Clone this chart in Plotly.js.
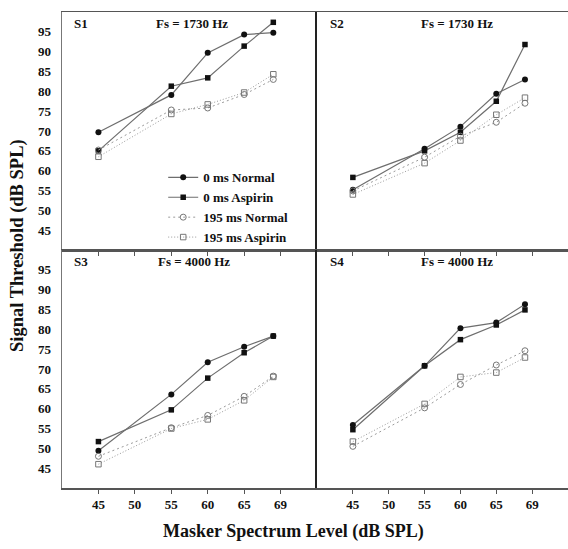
<!DOCTYPE html>
<html>
<head>
<meta charset="utf-8">
<script src="https://cdn.plot.ly/plotly-3.0.1.min.js"></script>
<style>html,body{margin:0;padding:0;background:#fff;}#chart{width:568px;height:549px;}</style>
</head>
<body>
<div id="chart"></div>
<script>
// Masker spectrum levels (dB SPL)
const maskerLevels = [45, 55, 60, 65, 69];
const xTickVals = [45, 50, 55, 60, 65, 70];
const xTickText = ['45', '50', '55', '60', '65', '69'];
const yTickVals = [45, 50, 55, 60, 65, 70, 75, 80, 85, 90, 95];

const seriesNames = ['0 ms Normal', '0 ms Aspirin', '195 ms Normal', '195 ms Aspirin'];

// Subject S1, Fs = 1730 Hz
const s1_0Normal    = [69.7, 79.1, 89.7, 94.3, 94.8];
const s1_0Aspirin   = [65.0, 81.3, 83.4, 91.4, 97.4];
const s1_195Normal  = [65.2, 75.3, 75.8, 79.2, 83.0];
const s1_195Aspirin = [63.5, 74.3, 76.7, 79.7, 84.3];

// Subject S2, Fs = 1730 Hz
const s2_0Normal    = [55.2, 65.5, 71.1, 79.4, 83.0];
const s2_0Aspirin   = [58.3, 65.0, 69.7, 77.5, 91.8];
const s2_195Normal  = [54.9, 63.4, 68.7, 72.2, 77.0];
const s2_195Aspirin = [54.0, 61.9, 67.6, 74.1, 78.4];

// Subject S3, Fs = 4000 Hz
const s3_0Normal    = [49.4, 63.6, 71.7, 75.6, 78.3];
const s3_0Aspirin   = [51.7, 59.7, 67.7, 74.1, 78.3];
const s3_195Normal  = [48.0, 55.2, 58.3, 63.1, 68.2];
const s3_195Aspirin = [46.0, 55.0, 57.3, 62.1, 68.0];

// Subject S4, Fs = 4000 Hz
const s4_0Normal    = [55.9, 70.8, 80.3, 81.7, 86.3];
const s4_0Aspirin   = [54.7, 70.8, 77.4, 81.1, 84.9];
const s4_195Normal  = [50.5, 60.2, 66.1, 71.0, 74.6];
const s4_195Aspirin = [51.7, 61.2, 68.0, 69.1, 72.9];

const panelLabels = ['S1', 'S2', 'S3', 'S4'];
const panelFs = ['Fs = 1730 Hz', 'Fs = 1730 Hz', 'Fs = 4000 Hz', 'Fs = 4000 Hz'];

const panels = [
  {xa: 'x',  ya: 'y',  data: [s1_0Normal, s1_0Aspirin, s1_195Normal, s1_195Aspirin]},
  {xa: 'x2', ya: 'y2', data: [s2_0Normal, s2_0Aspirin, s2_195Normal, s2_195Aspirin]},
  {xa: 'x3', ya: 'y3', data: [s3_0Normal, s3_0Aspirin, s3_195Normal, s3_195Aspirin]},
  {xa: 'x4', ya: 'y4', data: [s4_0Normal, s4_0Aspirin, s4_195Normal, s4_195Aspirin]}
];

const styles = [
  {line: {color: '#6e6e6e', width: 1.2, dash: 'solid'}, marker: {symbol: 'circle', size: 6, color: '#111'}},
  {line: {color: '#6e6e6e', width: 1.2, dash: 'solid'}, marker: {symbol: 'square', size: 5.5, color: '#111'}},
  {line: {color: '#9a9a9a', width: 1, dash: '2px,3px'}, marker: {symbol: 'circle-open', size: 6, color: '#777', line: {width: 1}}},
  {line: {color: '#9a9a9a', width: 1, dash: '1px,2px'}, marker: {symbol: 'square-open', size: 5.5, color: '#777', line: {width: 1}}}
];

const traces = [];
panels.forEach((p, pi) => {
  p.data.forEach((vals, si) => {
    traces.push({
      type: 'scatter', mode: 'lines+markers',
      x: maskerLevels, y: vals,
      xaxis: p.xa, yaxis: p.ya,
      name: seriesNames[si],
      showlegend: pi === 0,
      line: styles[si].line, marker: styles[si].marker,
      cliponaxis: false
    });
  });
});

const tickFont = {family: 'Liberation Serif', size: 13, color: '#111', weight: 'bold'};
const SPLIT = 0.504;

function xAxis(domain, anchor, labels) {
  return {
    domain: domain, anchor: anchor, range: [40, 75],
    tickvals: xTickVals, ticktext: xTickText, showticklabels: labels,
    ticks: 'outside', ticklen: 4, tickcolor: '#555', tickwidth: 1,
    showline: true, linecolor: '#555', linewidth: 1.5, mirror: true,
    showgrid: false, zeroline: false, tickfont: tickFont, fixedrange: true
  };
}
function yAxis(domain, anchor, labels, lc, lw) {
  return {
    domain: domain, anchor: anchor, range: [40, 100],
    tickvals: yTickVals, showticklabels: labels,
    ticks: labels ? 'outside' : '', ticklen: 7, tickcolor: 'rgba(0,0,0,0)',
    showline: true, linecolor: lc, linewidth: lw,
    showgrid: false, zeroline: false, tickfont: tickFont, fixedrange: true
  };
}

const annFont = {family: 'Liberation Serif', size: 13, color: '#111', weight: 'bold'};
const annotations = [];
const labelX = [41.4, 41.5, 41.4, 41.5];
const fsX = [57.9, 59.5, 58.1, 59.5];
panels.forEach((p, i) => {
  annotations.push({xref: p.xa, yref: p.ya, x: labelX[i], y: 97.2, text: panelLabels[i],
    showarrow: false, xanchor: 'left', yanchor: 'middle', font: annFont});
  annotations.push({xref: p.xa, yref: p.ya, x: fsX[i], y: 97.2, text: panelFs[i],
    showarrow: false, xanchor: 'center', yanchor: 'middle', font: annFont});
});
annotations.push({xref: 'paper', yref: 'paper', x: (293 - 62) / 506, y: -0.092,
  text: 'Masker Spectrum Level (dB SPL)', showarrow: false, xanchor: 'center', yanchor: 'middle',
  font: {family: 'Liberation Serif', size: 18, color: '#111', weight: 'bold'}});
annotations.push({xref: 'paper', yref: 'paper', x: (17 - 62) / 506, y: (488 - 246) / 476,
  text: 'Signal Threshold (dB SPL)', showarrow: false, xanchor: 'center', yanchor: 'middle', textangle: -90,
  font: {family: 'Liberation Serif', size: 18.5, color: '#111', weight: 'bold'}});

const layout = {
  width: 568, height: 549,
  margin: {l: 62, r: 0, t: 12, b: 61},
  paper_bgcolor: '#fff', plot_bgcolor: '#fff',
  showlegend: true,
  legend: {x: 0.2, y: 0.684, xanchor: 'left', yanchor: 'top', bgcolor: 'rgba(0,0,0,0)',
    font: {family: 'Liberation Serif', size: 13, color: '#111', weight: 'bold'}, tracegroupgap: 0},
  xaxis: xAxis([0, SPLIT], 'y', false),
  xaxis2: xAxis([SPLIT, 1], 'y2', false),
  xaxis3: xAxis([0, SPLIT], 'y3', true),
  xaxis4: xAxis([SPLIT, 1], 'y4', true),
  yaxis: yAxis([0.5, 1], 'x', true, '#777', 1.5),
  yaxis2: yAxis([0.5, 1], 'x2', false, '#222', 2),
  yaxis3: yAxis([0, 0.5], 'x3', true, '#777', 1.5),
  yaxis4: yAxis([0, 0.5], 'x4', false, '#222', 2),
  annotations: annotations
};

Plotly.newPlot('chart', traces, layout, {displayModeBar: false, staticPlot: true});
</script>
</body>
</html>
